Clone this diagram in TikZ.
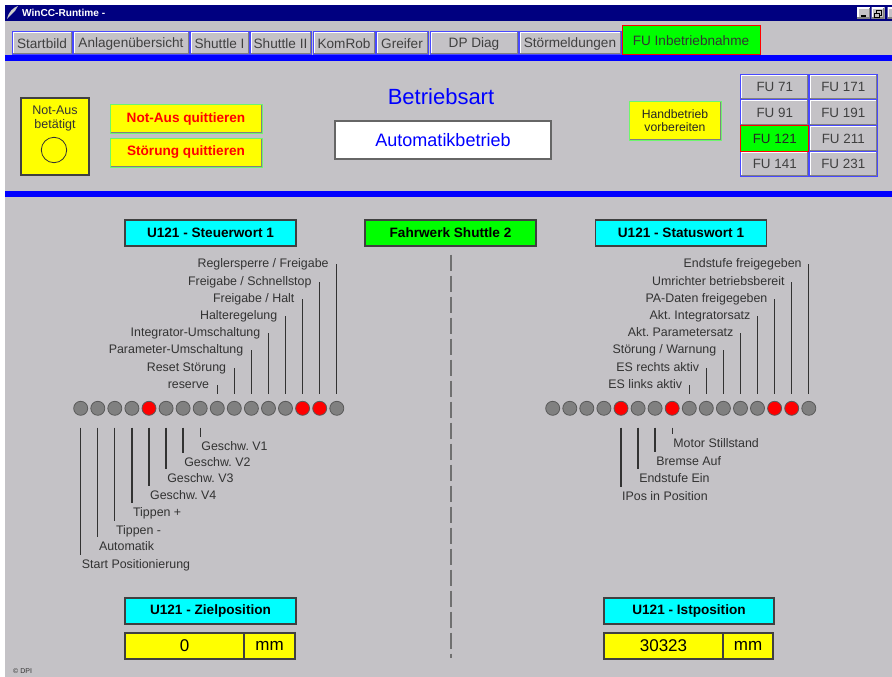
\documentclass[tikz,border=0pt]{standalone}
\usepackage{fontspec}
\setmainfont{Liberation Sans}
\usetikzlibrary{positioning}

\definecolor{wingrey}{RGB}{196,194,198}
\definecolor{navy}{RGB}{0,0,128}
\definecolor{winblue}{RGB}{0,0,255}
\definecolor{tabblue}{RGB}{72,72,255}
\definecolor{txtgrey}{RGB}{64,64,64}
\definecolor{lblgrey}{RGB}{50,50,50}
\definecolor{bitgrey}{RGB}{128,128,128}
\definecolor{shadegrey}{RGB}{128,128,128}
\definecolor{ackgreen}{RGB}{110,245,110}
\definecolor{dashgrey}{RGB}{112,112,112}
\definecolor{iconwhite}{RGB}{205,205,205}
\definecolor{wincyan}{RGB}{0,255,255}
\definecolor{winyellow}{RGB}{255,255,0}
\definecolor{wingreen}{RGB}{0,255,0}
\definecolor{winred}{RGB}{255,0,0}

\begin{document}
\frenchspacing
\begin{tikzpicture}[x=1pt, y=-1pt,
  bevel/.style={path picture={
    \draw[white, line width=3pt] (path picture bounding box.south west) -- (path picture bounding box.north west) -- (path picture bounding box.north east);
    \draw[shadegrey, line width=3pt] (path picture bounding box.north east) -- (path picture bounding box.south east) -- (path picture bounding box.south west);}},
  dropedge/.style={path picture={
    \draw[shadegrey, line width=3pt] (path picture bounding box.north east) -- (path picture bounding box.south east) -- (path picture bounding box.south west);}},
  winbtn/.style={rectangle, fill=wingrey, bevel, minimum width=13pt, minimum height=11pt, inner sep=0pt},
  tab/.style={rectangle, draw=tabblue, fill=wingrey, line width=1pt, bevel, text=txtgrey, font=\fontsize{13.6}{16}\selectfont, minimum height=23pt, inner sep=0pt},
  tabon/.style={rectangle, draw=winred, fill=wingreen, line width=1pt, text=black!80, font=\fontsize{13.6}{16}\selectfont, minimum height=29pt, inner sep=0pt},
  fubtn/.style={rectangle, draw=tabblue, fill=wingrey, line width=1pt, bevel, text=txtgrey, font=\fontsize{13.4}{16}\selectfont, minimum width=68pt, minimum height=25.7pt, inner sep=0pt},
  fuon/.style={rectangle, draw=winred, fill=wingreen, line width=1pt, text=black!85, font=\fontsize{13.4}{16}\selectfont, minimum width=68pt, minimum height=25.7pt, inner sep=0pt},
  ackbtn/.style={rectangle, draw=ackgreen, fill=winyellow, line width=1pt, dropedge, text=winred, font=\fontsize{13.6}{16}\selectfont\bfseries, minimum width=152pt, minimum height=29pt, inner sep=0pt},
  alarmbox/.style={rectangle, draw=black!75, fill=winyellow, line width=1.2pt, minimum width=68pt, minimum height=77pt},
  hdr/.style={rectangle, draw=black!75, fill=wincyan, line width=1.2pt, font=\fontsize{13.6}{16}\selectfont\bfseries, minimum width=171pt, minimum height=26pt, inner sep=0pt},
  valbox/.style={rectangle, draw=black!75, fill=winyellow, line width=1.2pt, font=\fontsize{17}{20}\selectfont, minimum height=26pt, inner sep=0pt},
  bit/.style={circle, draw=black!65, fill=bitgrey, line width=0.8pt, minimum size=14pt, inner sep=0pt},
  biton/.style={bit, fill=winred},
  lbl/.style={font=\fontsize{12.4}{14}\selectfont, text=lblgrey, inner sep=0pt, text height=9pt, text depth=2.5pt},
  bitline/.style={draw=lblgrey, line width=1.3pt},
  divider/.style={draw=dashgrey, line width=2pt, dash pattern=on 16pt off 5pt}
]
\useasboundingbox (0,0) rectangle (892,677);
% window
\fill[white] (0,0) rectangle (892,677);
\fill[wingrey] (5,5) rectangle (892,677);
\fill[navy] (5,5) rectangle (892,21);
\fill[winblue] (5,55) rectangle (892,61);
\fill[winblue] (5,191) rectangle (892,197);

% title bar
\fill[iconwhite] (7,19) .. controls (9,11) and (13,8) .. (18,6) -- (15,11) -- (10,16) -- cycle;
\node[anchor=west, text=white, font=\fontsize{10.1}{12}\selectfont\bfseries, inner sep=0pt] (title) at (22,13) {WinCC-Runtime -};
\node[winbtn] (minbtn) at (863.5,13.5) {};
\node[winbtn] (maxbtn) at (878,13.5) {};
\node[winbtn] (closebtn) at (894,13.5) {};
\draw[line width=1.5pt] ([xshift=-3pt,yshift=-2.5pt]minbtn.center) -- ([xshift=2pt,yshift=-2.5pt]minbtn.center);
\draw[line width=0.8pt] ([xshift=-4pt,yshift=-3.5pt]maxbtn.center) rectangle ([xshift=1pt,yshift=0.5pt]maxbtn.center);
\draw[line width=0.8pt] ([xshift=-2pt,yshift=0.5pt]maxbtn.center) -- ([xshift=-2pt,yshift=3.5pt]maxbtn.center) -- ([xshift=3pt,yshift=3.5pt]maxbtn.center) -- ([xshift=3pt,yshift=-1.5pt]maxbtn.center) -- ([xshift=1pt,yshift=-1.5pt]maxbtn.center);

% tabs
\node[tab, minimum width=60pt] (startbild) at (42,43.5) {Startbild};
\node[tab, minimum width=116pt] (anlagen) at (131,43.5) {Anlagenübersicht};
\node[tab, minimum width=59pt] (shuttle1) at (219.5,43.5) {Shuttle I};
\node[tab, minimum width=61pt] (shuttle2) at (280.5,43.5) {Shuttle II};
\node[tab, minimum width=62pt] (komrob) at (344,43.5) {KomRob};
\node[tab, minimum width=52pt] (greifer) at (402,43.5) {Greifer};
\node[tab, minimum width=88pt] (dpdiag) at (474,43.5) {DP Diag};
\node[tab, minimum width=102pt] (stoer) at (570,43.5) {Störmeldungen};
\node[tabon, minimum width=138pt] (fuinbetr) at (691,40.5) {FU Inbetriebnahme};

% operating panel
\node[alarmbox] (notaus) at (55,136.5) {};
\node[font=\fontsize{12.5}{14}\selectfont, text=black!80, align=center, anchor=north, inner sep=0pt] (notaustxt) at (55,106) {Not-Aus\\betätigt};
\node[circle, draw=black!80, line width=0.8pt, minimum size=25.4pt, inner sep=0pt] (lamp) at (54,150) {};
\node[ackbtn] (ackstop) at (186,118.5) {Not-Aus quittieren};
\node[ackbtn] (ackfault) at (186,152.5) {Störung quittieren};
\node[text=winblue, font=\fontsize{22}{26}\selectfont, inner sep=0pt] (modetitle) at (441,97) {Betriebsart};
\node[rectangle, draw=black!60, fill=white, line width=1.5pt, minimum width=216pt, minimum height=38pt, text=winblue, font=\fontsize{18}{22}\selectfont] (mode) at (443,140) {Automatikbetrieb};
\node[ackbtn, text=black!85, font=\fontsize{12.2}{13.3}\selectfont, align=center, minimum width=92pt, minimum height=39pt] (handbtn) at (675,120.5) {Handbetrieb\\vorbereiten};

\node[fubtn] (fu71) at (774.75,87) {FU 71};
\node[fubtn] (fu171) at (843.25,87) {FU 171};
\node[fubtn] (fu91) at (774.75,112.7) {FU 91};
\node[fubtn] (fu191) at (843.25,112.7) {FU 191};
\node[fubtn] (fu211) at (843.25,138.4) {FU 211};
\node[fubtn] (fu141) at (774.75,164.1) {FU 141};
\node[fubtn] (fu231) at (843.25,164.1) {FU 231};
\node[fuon] (fu121) at (774.75,138.4) {FU 121};

% control / status words
\node[hdr] (steuer) at (210.5,233) {U121 - Steuerwort 1};
\node[hdr, fill=wingreen] (fahrwerk) at (450.5,233) {Fahrwerk Shuttle 2};
\node[hdr] (status) at (681,233) {U121 - Statuswort 1};
\coordinate (divend) at (450.5,658);
\draw[divider] ([yshift=-8pt]fahrwerk.south) -- (divend);

\node[bit] (l0) at (80.7,408.3) {};
\node[bit] (l1) at (97.8,408.3) {};
\node[bit] (l2) at (114.8,408.3) {};
\node[bit] (l3) at (131.9,408.3) {};
\node[biton] (l4) at (149.0,408.3) {};
\node[bit] (l5) at (166.1,408.3) {};
\node[bit] (l6) at (183.1,408.3) {};
\node[bit] (l7) at (200.2,408.3) {};
\node[bit] (l8) at (217.3,408.3) {};
\node[bit] (l9) at (234.3,408.3) {};
\node[bit] (l10) at (251.4,408.3) {};
\node[bit] (l11) at (268.5,408.3) {};
\node[bit] (l12) at (285.5,408.3) {};
\node[biton] (l13) at (302.6,408.3) {};
\node[biton] (l14) at (319.7,408.3) {};
\node[bit] (l15) at (336.8,408.3) {};

\node[bit] (r0) at (552.7,408.3) {};
\node[bit] (r1) at (569.8,408.3) {};
\node[bit] (r2) at (586.8,408.3) {};
\node[bit] (r3) at (603.9,408.3) {};
\node[biton] (r4) at (621.0,408.3) {};
\node[bit] (r5) at (638.1,408.3) {};
\node[bit] (r6) at (655.1,408.3) {};
\node[biton] (r7) at (672.2,408.3) {};
\node[bit] (r8) at (689.3,408.3) {};
\node[bit] (r9) at (706.3,408.3) {};
\node[bit] (r10) at (723.4,408.3) {};
\node[bit] (r11) at (740.5,408.3) {};
\node[bit] (r12) at (757.5,408.3) {};
\node[biton] (r13) at (774.6,408.3) {};
\node[biton] (r14) at (791.7,408.3) {};
\node[bit] (r15) at (808.8,408.3) {};

% control word labels
\node[lbl, anchor=east] (lu8) at ([xshift=-8pt]l8 |- 0,385) {reserve};
\node[lbl, anchor=east] (lu9) at ([xshift=-8pt]l9 |- 0,368) {Reset Störung};
\node[lbl, anchor=east] (lu10) at ([xshift=-8pt]l10 |- 0,350) {Parameter-Umschaltung};
\node[lbl, anchor=east] (lu11) at ([xshift=-8pt]l11 |- 0,333) {Integrator-Umschaltung};
\node[lbl, anchor=east] (lu12) at ([xshift=-8pt]l12 |- 0,316) {Halteregelung};
\node[lbl, anchor=east] (lu13) at ([xshift=-8pt]l13 |- 0,299) {Freigabe / Halt};
\node[lbl, anchor=east] (lu14) at ([xshift=-8pt]l14 |- 0,282) {Freigabe / Schnellstop};
\node[lbl, anchor=east] (lu15) at ([xshift=-8pt]l15 |- 0,264) {Reglersperre / Freigabe};
\draw[bitline] ([yshift=7pt]l8.north) -- (l8 |- lu8.east);
\draw[bitline] ([yshift=7pt]l9.north) -- (l9 |- lu9.east);
\draw[bitline] ([yshift=7pt]l10.north) -- (l10 |- lu10.east);
\draw[bitline] ([yshift=7pt]l11.north) -- (l11 |- lu11.east);
\draw[bitline] ([yshift=7pt]l12.north) -- (l12 |- lu12.east);
\draw[bitline] ([yshift=7pt]l13.north) -- (l13 |- lu13.east);
\draw[bitline] ([yshift=7pt]l14.north) -- (l14 |- lu14.east);
\draw[bitline] ([yshift=7pt]l15.north) -- (l15 |- lu15.east);

\node[lbl, anchor=north west] (ll0) at ([xshift=1pt]l0 |- 0,559) {Start Positionierung};
\node[lbl, anchor=north west] (ll1) at ([xshift=1pt]l1 |- 0,541) {Automatik};
\node[lbl, anchor=north west] (ll2) at ([xshift=1pt]l2 |- 0,525) {Tippen -};
\node[lbl, anchor=north west] (ll3) at ([xshift=1pt]l3 |- 0,507) {Tippen +};
\node[lbl, anchor=north west] (ll4) at ([xshift=1pt]l4 |- 0,490) {Geschw. V4};
\node[lbl, anchor=north west] (ll5) at ([xshift=1pt]l5 |- 0,473) {Geschw. V3};
\node[lbl, anchor=north west] (ll6) at ([xshift=1pt]l6 |- 0,457) {Geschw. V2};
\node[lbl, anchor=north west] (ll7) at ([xshift=1pt]l7 |- 0,441) {Geschw. V1};
\draw[bitline] ([yshift=-12pt]l0.south) -- ([yshift=4pt]ll0.north -| l0);
\draw[bitline] ([yshift=-12pt]l1.south) -- ([yshift=4pt]ll1.north -| l1);
\draw[bitline] ([yshift=-12pt]l2.south) -- ([yshift=4pt]ll2.north -| l2);
\draw[bitline] ([yshift=-12pt]l3.south) -- ([yshift=4pt]ll3.north -| l3);
\draw[bitline] ([yshift=-12pt]l4.south) -- ([yshift=4pt]ll4.north -| l4);
\draw[bitline] ([yshift=-12pt]l5.south) -- ([yshift=4pt]ll5.north -| l5);
\draw[bitline] ([yshift=-12pt]l6.south) -- ([yshift=4pt]ll6.north -| l6);
\draw[bitline] ([yshift=-12pt]l7.south) -- ([yshift=4pt]ll7.north -| l7);

% status word labels
\node[lbl, anchor=east] (ru8) at ([xshift=-7pt]r8 |- 0,385) {ES links aktiv};
\node[lbl, anchor=east] (ru9) at ([xshift=-7pt]r9 |- 0,368) {ES rechts aktiv};
\node[lbl, anchor=east] (ru10) at ([xshift=-7pt]r10 |- 0,350) {Störung / Warnung};
\node[lbl, anchor=east] (ru11) at ([xshift=-7pt]r11 |- 0,333) {Akt. Parametersatz};
\node[lbl, anchor=east] (ru12) at ([xshift=-7pt]r12 |- 0,316) {Akt. Integratorsatz};
\node[lbl, anchor=east] (ru13) at ([xshift=-7pt]r13 |- 0,299) {PA-Daten freigegeben};
\node[lbl, anchor=east] (ru14) at ([xshift=-7pt]r14 |- 0,282) {Umrichter betriebsbereit};
\node[lbl, anchor=east] (ru15) at ([xshift=-7pt]r15 |- 0,264) {Endstufe freigegeben};
\draw[bitline] ([yshift=7pt]r8.north) -- (r8 |- ru8.east);
\draw[bitline] ([yshift=7pt]r9.north) -- (r9 |- ru9.east);
\draw[bitline] ([yshift=7pt]r10.north) -- (r10 |- ru10.east);
\draw[bitline] ([yshift=7pt]r11.north) -- (r11 |- ru11.east);
\draw[bitline] ([yshift=7pt]r12.north) -- (r12 |- ru12.east);
\draw[bitline] ([yshift=7pt]r13.north) -- (r13 |- ru13.east);
\draw[bitline] ([yshift=7pt]r14.north) -- (r14 |- ru14.east);
\draw[bitline] ([yshift=7pt]r15.north) -- (r15 |- ru15.east);

\node[lbl, anchor=north west] (rl4) at ([xshift=1pt]r4 |- 0,491) {IPos in Position};
\node[lbl, anchor=north west] (rl5) at ([xshift=1pt]r5 |- 0,473) {Endstufe Ein};
\node[lbl, anchor=north west] (rl6) at ([xshift=1pt]r6 |- 0,456) {Bremse Auf};
\node[lbl, anchor=north west] (rl7) at ([xshift=1pt]r7 |- 0,438) {Motor Stillstand};
\draw[bitline] ([yshift=-12pt]r4.south) -- ([yshift=4pt]rl4.north -| r4);
\draw[bitline] ([yshift=-12pt]r5.south) -- ([yshift=4pt]rl5.north -| r5);
\draw[bitline] ([yshift=-12pt]r6.south) -- ([yshift=4pt]rl6.north -| r6);
\draw[bitline] ([yshift=-12pt]r7.south) -- ([yshift=4pt]rl7.north -| r7);

% positions
\node[hdr] (ziel) at (210.5,611) {U121 - Zielposition};
\node[valbox, minimum width=119pt] (zielval) at (184.5,646) {0};
\node[valbox, minimum width=51pt, right=-1.2pt of zielval] (zielunit) {mm};
\node[hdr, minimum width=170pt] (ist) at (689,611) {U121 - Istposition};
\node[valbox, minimum width=119pt] (istval) at (663.5,646) {30323};
\node[valbox, minimum width=50pt, right=-1.2pt of istval] (istunit) {mm};

\node[font=\fontsize{7}{8}\selectfont, text=black!80, inner sep=0pt, anchor=west] (copy) at (13,671) {© DPI};
\end{tikzpicture}
\end{document}
